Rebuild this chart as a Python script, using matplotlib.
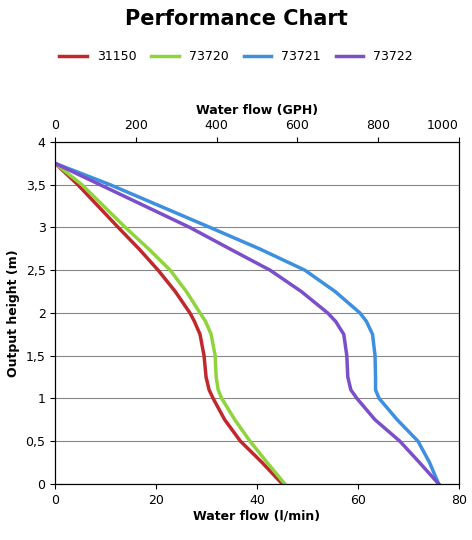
import matplotlib.pyplot as plt
import numpy as np

heights = [0, 0.25, 0.5, 0.75, 1, 1.1, 1.25, 1.5, 1.75, 1.9, 2, 2.25, 2.5, 2.75, 3, 3.25, 3.5, 3.75]
series = {
    "31150": [45, 41, 36.7, 33.6, 31.3, 30.5, 29.9, 29.5, 28.7, 27.6, 26.7, 23.8, 20.4, 16.6, 12.5, 8.5, 4.5, 0],
    "73720": [45.5, 42, 38.6, 35.6, 33, 32.3, 31.9, 31.7, 30.9, 29.8, 28.7, 26.0, 22.8, 18.5, 13.9, 9.6, 5.3, 0],
    "73721": [76, 74.2, 71.9, 67.8, 64.2, 63.5, 63.5, 63.4, 62.9, 61.7, 60.4, 55.5, 49.5, 40.5, 30.7, 20.8, 10.9, 0],
    "73722": [76, 72.2, 68.3, 63.4, 59.8, 58.6, 58.0, 57.8, 57.2, 55.6, 54, 48.8, 42.6, 34.6, 26.7, 17.8, 8.9, 0],
}
colors = ["#c0282d", "#8fd43c", "#3d8fe0", "#7b4fc9"]
yticks = [0, 0.5, 1, 1.5, 2, 2.5, 3, 3.5, 4]
ylabels = ["0", "0,5", "1", "1,5", "2", "2,5", "3", "3,5", "4"]

fig = plt.figure(figsize=(4.72, 5.4), dpi=100)
ax = fig.add_axes([0.117, 0.104, 0.855, 0.633])
for (name, vals), c in zip(series.items(), colors):
    ax.plot(vals, heights, color=c, lw=2.5, label=name, solid_joinstyle="round")
ax.set_xlim(0, 80)
ax.set_ylim(0, 4)
ax.set_xticks([0, 20, 40, 60, 80])
ax.set_yticks(yticks)
ax.set_yticklabels(ylabels)
ax.yaxis.grid(True, color="#888888", lw=0.8)
ax.tick_params(labelsize=9)
ax.set_xlabel("Water flow (l/min)", fontsize=9, fontweight="bold", labelpad=2)
ax.set_ylabel("Output height (m)", fontsize=9, fontweight="bold")
ax2 = ax.twiny()
ax2.set_xlim(0, 1000)
ax2.set_xticks([0, 200, 400, 600, 800, 1000])
ax2.set_xticklabels(["0", "200", "400", "600", "800", "1000"])
ax2.get_xticklabels()[-1].set_ha("right")
ax2.tick_params(labelsize=9)
ax2.set_xlabel("Water flow (GPH)", fontsize=9, fontweight="bold", labelpad=4)
fig.text(0.5, 0.965, "Performance Chart", ha="center", va="center", fontsize=15, fontweight="bold")
ax.legend(loc="center", bbox_to_anchor=(0.5, 0.895), bbox_transform=fig.transFigure,
          ncol=4, frameon=False, fontsize=9, handlelength=2.2, columnspacing=1.2)
fig.savefig("out.png")
